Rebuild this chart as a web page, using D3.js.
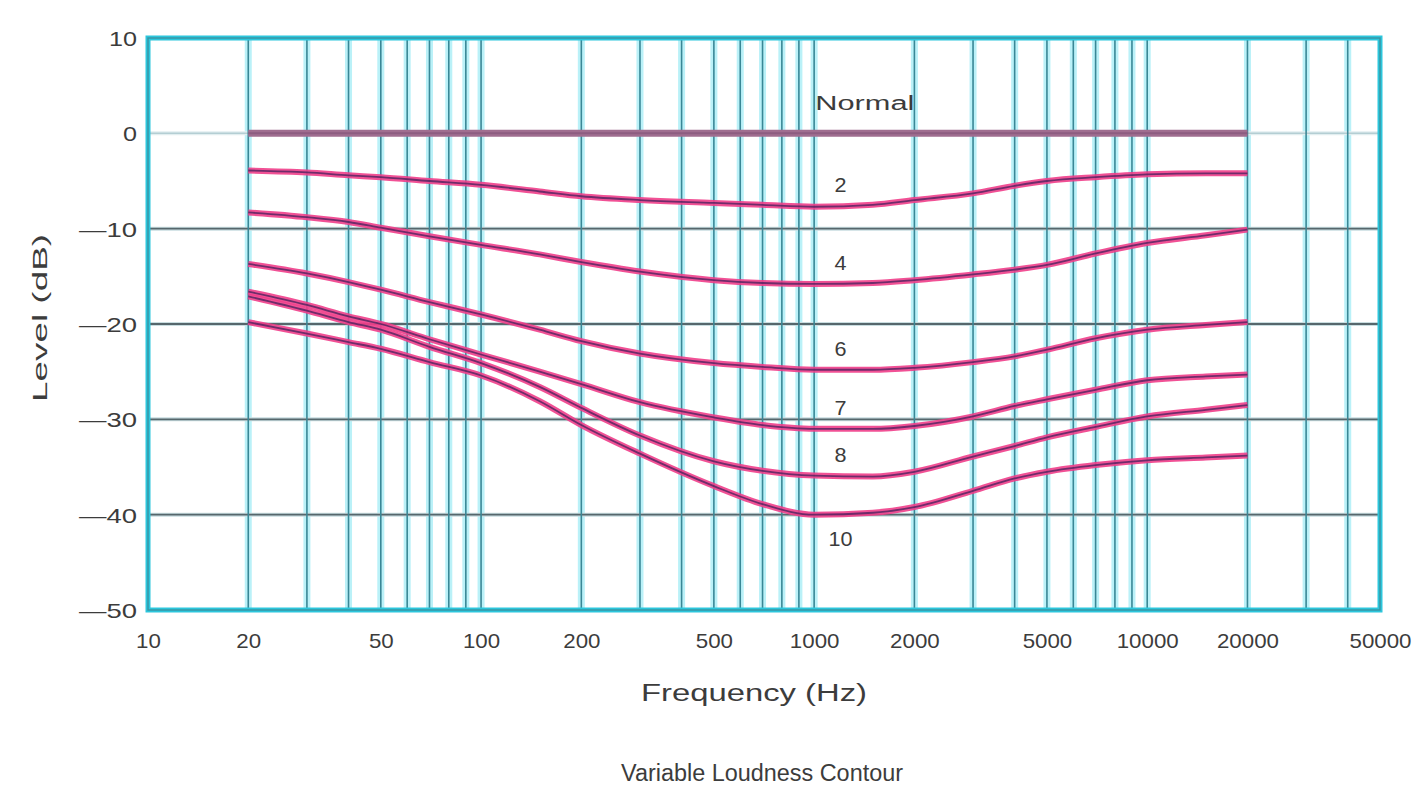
<!DOCTYPE html>
<html>
<head>
<meta charset="utf-8">
<script src="https://cdn.jsdelivr.net/npm/d3@7"></script>
<style>
  html, body { margin: 0; padding: 0; background: #ffffff; }
  svg { display: block; }
  text { font-family: "Liberation Sans", Arial, sans-serif; fill: #3c3c3c; }
</style>
</head>
<body>
<svg id="chart" width="1419" height="787"></svg>
<script>
// ---------------- data ----------------
const freqs = [20, 30, 40, 50, 70, 100, 150, 200, 300, 500, 700, 1000, 1500, 2000, 3000, 4000, 5000, 7000, 10000, 15000, 20000];
const curveNames = ["Normal", "2", "4", "6", "7", "8", "10"];
const levelNormal = [0, 0, 0, 0, 0, 0, 0, 0, 0, 0, 0, 0, 0, 0, 0, 0, 0, 0, 0, 0, 0];
const level2  = [-3.9, -4.1, -4.4, -4.6, -5.0, -5.4, -6.1, -6.6, -7.0, -7.3, -7.5, -7.7, -7.5, -7.0, -6.3, -5.5, -5.0, -4.6, -4.3, -4.2, -4.2];
const level4  = [-8.3, -8.8, -9.3, -9.9, -10.8, -11.7, -12.7, -13.5, -14.5, -15.4, -15.7, -15.8, -15.7, -15.4, -14.8, -14.3, -13.8, -12.6, -11.5, -10.7, -10.1];
const level6  = [-13.7, -14.7, -15.6, -16.4, -17.7, -19.0, -20.6, -21.8, -23.1, -24.1, -24.5, -24.8, -24.8, -24.6, -24.0, -23.4, -22.7, -21.5, -20.6, -20.1, -19.8];
const level7  = [-16.6, -18.0, -19.2, -20.0, -21.6, -23.2, -25.0, -26.3, -28.2, -29.8, -30.6, -31.0, -31.0, -30.7, -29.7, -28.6, -27.9, -26.9, -25.9, -25.5, -25.3];
const level8  = [-17.1, -18.6, -19.8, -20.6, -22.4, -24.1, -26.6, -28.8, -31.7, -34.4, -35.4, -35.9, -36.0, -35.5, -33.9, -32.8, -31.9, -30.8, -29.7, -29.0, -28.5];
const level10 = [-19.8, -21.0, -21.9, -22.6, -24.0, -25.4, -28.1, -30.6, -33.6, -37.0, -38.9, -40.0, -39.8, -39.2, -37.5, -36.2, -35.5, -34.8, -34.3, -34.0, -33.8];
const xTickValues = [10, 20, 50, 100, 200, 500, 1000, 2000, 5000, 10000, 20000, 50000];
const yTickValues = [10, 0, -10, -20, -30, -40, -50];
const xDomain = [10, 50000];
const yDomain = [-50, 10];
const titleText = "Variable Loudness Contour";
const xTitle = "Frequency (Hz)";
const yTitle = "Level (dB)";
const labelFreq = 1200;
const normalLabelFreq = 1420;

const series = [levelNormal, level2, level4, level6, level7, level8, level10].map((vals, i) => ({
  name: curveNames[i],
  points: freqs.map((f, j) => ({ f: f, v: vals[j] }))
}));

// ---------------- layout ----------------
const svg = d3.select("#chart");
const plot = { left: 148, right: 1380, top: 38, bottom: 610 };
const x = d3.scaleLog().domain(xDomain).range([plot.left, plot.right]);
const y = d3.scaleLinear().domain(yDomain).range([plot.bottom, plot.top]);

svg.append("rect").attr("width", 1419).attr("height", 787).attr("fill", "#ffffff");

// grid frequencies: 1..9 per decade from 20 Hz up to (not including) 50 kHz
const vFreqs = [];
[10, 100, 1000, 10000].forEach(dec => {
  for (let k = 1; k <= 9; k++) {
    const f = dec * k;
    if (f >= 20 && f < 50000) vFreqs.push(f);
  }
});

const grid = svg.append("g");
// cyan halo of vertical lines
grid.selectAll("line.vglow").data(vFreqs).enter().append("line")
  .attr("x1", d => x(d)).attr("x2", d => x(d))
  .attr("y1", plot.top).attr("y2", plot.bottom)
  .attr("stroke", "#9decf6").attr("stroke-width", 7).attr("opacity", 0.7);
// horizontal lines
const hLevels = yTickValues.filter(v => v < 10 && v > -50);
grid.selectAll("line.hglow").data(hLevels).enter().append("line")
  .attr("x1", plot.left).attr("x2", plot.right)
  .attr("y1", d => y(d)).attr("y2", d => y(d))
  .attr("stroke", d => d === 0 ? "#e2eef0" : "#c9dde0").attr("stroke-width", 4);
grid.selectAll("line.h").data(hLevels).enter().append("line")
  .attr("x1", plot.left).attr("x2", plot.right)
  .attr("y1", d => y(d)).attr("y2", d => y(d))
  .attr("stroke", d => d === 0 ? "#b4ced3" : "#56676c").attr("stroke-width", d => d === 0 ? 1.5 : 1.8);
// vertical core lines
grid.selectAll("line.v").data(vFreqs).enter().append("line")
  .attr("x1", d => x(d)).attr("x2", d => x(d))
  .attr("y1", plot.top).attr("y2", plot.bottom)
  .attr("stroke", "#3a8796").attr("stroke-width", 1.6);

// ---------------- curves ----------------
const line = d3.line().x(d => x(d.f)).y(d => y(d.v)).curve(d3.curveMonotoneX);
const curves = svg.append("g");
series.forEach((s, i) => {
  if (i === 0) {
    curves.append("path").attr("d", line(s.points)).attr("fill", "none")
      .attr("stroke", "#a06e90").attr("stroke-width", 7);
    curves.append("path").attr("d", line(s.points)).attr("fill", "none")
      .attr("stroke", "#7a4b72").attr("stroke-width", 2).attr("opacity", 0.5);
  } else {
    curves.append("path").attr("d", line(s.points)).attr("fill", "none")
      .attr("stroke", "#f03e8a").attr("stroke-width", 6).attr("opacity", 0.9);
    curves.append("path").attr("d", line(s.points)).attr("fill", "none")
      .attr("stroke", "#43205c").attr("stroke-width", 1.8).attr("opacity", 0.75);
  }
});

// ---------------- border ----------------
svg.append("rect")
  .attr("x", plot.left).attr("y", plot.top)
  .attr("width", plot.right - plot.left).attr("height", plot.bottom - plot.top)
  .attr("fill", "none").attr("stroke", "#2cc6dc").attr("stroke-width", 5);
svg.append("rect")
  .attr("x", plot.left).attr("y", plot.top)
  .attr("width", plot.right - plot.left).attr("height", plot.bottom - plot.top)
  .attr("fill", "none").attr("stroke", "#3797a6").attr("stroke-width", 1.5);

// ---------------- axes ----------------
const xAxis = d3.axisBottom(x).tickValues(xTickValues).tickSize(0).tickPadding(0).tickFormat(d3.format("d"));
const gx = svg.append("g").attr("transform", `translate(0, ${plot.bottom + 38})`).call(xAxis);
gx.select(".domain").remove();
gx.selectAll("text")
  .attr("dy", 0).attr("y", 0)
  .style("font-size", "21px").style("font-family", "\"Liberation Sans\", Arial, sans-serif").attr("fill", "#3c3c3c")
  .attr("textLength", function () { return this.textContent.length * 12.4; })
  .attr("lengthAdjust", "spacingAndGlyphs");

const yAxis = d3.axisLeft(y).tickValues(yTickValues).tickSize(0).tickPadding(0)
  .tickFormat(d => d < 0 ? "\u2014" + Math.abs(d) : String(d));
const gy = svg.append("g").attr("transform", `translate(${plot.left - 11}, 0)`).call(yAxis);
gy.select(".domain").remove();
gy.selectAll("text")
  .attr("dy", "0.35em")
  .style("font-size", "21px").style("font-family", "\"Liberation Sans\", Arial, sans-serif").attr("fill", "#3c3c3c")
  .attr("textLength", function () {
    const t = this.textContent;
    const neg = t.startsWith("\u2014");
    return (neg ? 30 : 0) + (t.length - (neg ? 1 : 0)) * 14;
  })
  .attr("lengthAdjust", "spacingAndGlyphs");

// ---------------- curve labels ----------------
const labels = svg.append("g");
series.forEach((s, i) => {
  const isNormal = i === 0;
  const isLast = i === series.length - 1;
  const f = isNormal ? normalLabelFreq : labelFreq;
  const v = d3.scaleLog().domain(freqs).range(s.points.map(p => p.v))(f);
  labels.append("text")
    .attr("x", x(f)).attr("y", y(v) + (isNormal ? -30 : isLast ? 25 : -21))
    .attr("dy", "0.35em").attr("text-anchor", "middle")
    .style("font-size", "20px")
    .attr("textLength", s.name.length * (isNormal ? 16.5 : 12))
    .attr("lengthAdjust", "spacingAndGlyphs")
    .text(s.name);
});

// ---------------- titles ----------------
svg.append("text").attr("x", 754).attr("y", 693).attr("dy", "0.35em").attr("text-anchor", "middle")
  .style("font-size", "23px").attr("textLength", 226).attr("lengthAdjust", "spacingAndGlyphs").text(xTitle);
svg.append("text").attr("x", 762).attr("y", 773).attr("dy", "0.35em").attr("text-anchor", "middle")
  .style("font-size", "23px").attr("textLength", 282).attr("lengthAdjust", "spacingAndGlyphs").text(titleText);
svg.append("text").attr("transform", "translate(40, 318) rotate(-90)").attr("dy", "0.35em").attr("text-anchor", "middle")
  .style("font-size", "21px").attr("textLength", 168).attr("lengthAdjust", "spacingAndGlyphs").text(yTitle);
</script>
</body>
</html>
